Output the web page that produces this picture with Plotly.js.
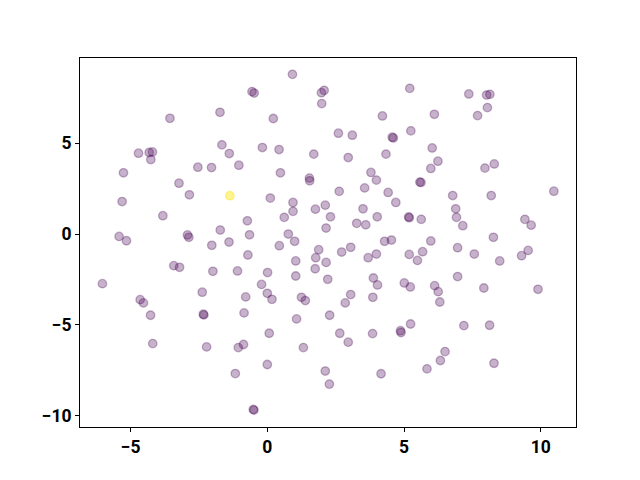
<!DOCTYPE html>
<html>
<head>
<meta charset="utf-8">
<script src="https://cdn.plot.ly/plotly-3.0.1.min.js"></script>
<style>html,body{margin:0;padding:0;background:#fff;}#chart{width:640px;height:480px;}</style>
</head>
<body>
<div id="chart"></div>
<script>
const xValues = [0.92,-0.56,-0.48,1.98,2.08,1.99,0.22,5.21,4.21,5.25,4.57,4.61,2.60,3.11,-0.18,0.43,1.70,2.96,4.34,0.48,1.54,1.55,3.79,3.99,
-3.56,-1.73,-1.66,-1.39,-1.04,-4.71,-4.32,-4.20,-4.26,-5.26,-2.54,-2.04,-3.23,
7.37,8.02,8.14,8.05,7.69,6.11,6.03,6.24,5.98,7.96,8.30,5.58,5.62,
-2.85,-5.31,-1.37,-3.82,-0.73,-5.42,-5.15,-2.92,-2.87,-1.72,-1.40,-2.03,-0.65,-0.71,-3.42,-3.21,-1.99,-1.09,-6.03,-2.38,-0.79,-4.65,-4.53,
-4.27,-2.34,-2.32,-0.85,-4.19,-2.22,-1.06,-0.87,-1.17,-0.51,-0.49,
0.11,0.94,0.94,0.62,2.63,3.56,4.42,4.70,1.76,2.12,2.31,2.15,3.50,4.02,3.27,3.60,5.17,5.19,0.77,1.00,0.44,1.88,1.77,2.15,1.04,2.72,3.05,3.69,3.99,4.29,4.54,5.19,
0.01,1.04,1.75,2.21,-0.21,0.00,0.17,1.25,1.39,2.85,3.05,3.88,4.03,3.86,5.01,5.23,
6.78,8.19,10.48,6.89,6.92,7.15,5.63,9.42,9.65,8.27,5.98,5.68,5.49,6.96,7.57,8.50,9.30,9.54,6.96,7.92,9.90,6.12,6.25,6.31,
5.24,7.19,8.13,6.50,6.33,5.84,8.29,
1.07,2.28,0.07,1.32,2.65,2.96,3.85,4.87,4.89,0.00,2.12,2.27,4.16];
const yValues = [8.79,7.84,7.76,7.78,7.91,7.18,6.36,8.02,6.50,5.68,5.33,5.29,5.55,5.44,4.76,4.65,4.40,4.21,4.40,3.37,3.08,2.93,3.39,2.97,
6.37,6.70,4.91,4.43,3.79,4.45,4.49,4.52,4.10,3.37,3.68,3.66,2.80,
7.71,7.65,7.69,6.96,6.52,6.59,4.74,4.01,3.61,3.63,3.86,2.86,2.84,
2.16,1.79,2.11,1.01,0.73,-0.13,-0.37,-0.05,-0.18,0.22,-0.44,-0.62,-0.04,-1.15,-1.74,-1.83,-2.05,-2.03,-2.73,-3.20,-3.46,-3.61,-3.79,
-4.47,-4.41,-4.45,-4.34,-6.03,-6.21,-6.25,-6.08,-7.68,-9.65,-9.69,
1.98,1.74,1.25,0.92,2.35,2.54,2.29,1.74,1.37,1.59,0.95,0.33,1.39,0.95,0.59,0.51,0.94,0.90,0.00,-0.40,-0.64,-0.86,-1.30,-1.56,-1.48,-0.99,-0.73,-1.30,-1.10,-0.40,-0.33,-1.12,
-2.12,-2.31,-1.91,-2.49,-2.77,-3.26,-3.59,-3.48,-3.66,-3.79,-3.33,-2.42,-2.80,-3.48,-2.69,-2.91,
2.12,2.12,2.36,1.39,0.92,0.46,0.81,0.81,0.49,-0.18,-0.38,-0.97,-1.45,-0.75,-1.10,-1.48,-1.19,-0.90,-2.34,-2.97,-3.04,-2.84,-3.17,-3.74,
-4.95,-5.04,-5.02,-6.47,-6.96,-7.42,-7.11,
-4.67,-4.47,-5.46,-6.25,-5.46,-5.95,-5.48,-5.32,-5.42,-7.18,-7.54,-8.26,-7.69];
// class label per point: 1 for the single highlighted point, 0 otherwise
const classLabels = xValues.map((x, i) => (i === 52 ? 1 : 0));
const classColors = ['rgba(68,1,84,0.3)', 'rgba(253,231,37,0.5)'];
const xTicks = [-5, 0, 5, 10];
const yTicks = [5, 0, -5, -10];

const colors = classLabels.map(c => classColors[c]);
const trace = {
  x: xValues, y: yValues, type: 'scatter', mode: 'markers',
  marker: {size: 8.5, color: colors, line: {color: colors, width: 1.3}},
  hoverinfo: 'skip'
};
const tickFont = {family: 'Roboto, "DejaVu Sans", sans-serif', size: 17.5, color: '#000', weight: 'bold'};
const layout = {
  width: 640, height: 480,
  margin: {l: 80, r: 64, t: 58, b: 53, pad: 0},
  paper_bgcolor: '#fff', plot_bgcolor: '#fff',
  showlegend: false,
  xaxis: {range: [-6.85, 11.29], tickvals: xTicks, ticktext: xTicks.map(v => v < 0 ? '\u2212' + Math.abs(v) : String(v)),
    showgrid: false, zeroline: false, showline: true, mirror: true, linecolor: '#000', linewidth: 1,
    ticks: 'outside', ticklen: 4, tickwidth: 1, tickcolor: '#000', tickfont: tickFont},
  yaxis: {range: [-10.62, 9.69], tickvals: yTicks, ticktext: yTicks.map(v => v < 0 ? '\u2212' + Math.abs(v) : String(v)),
    showgrid: false, zeroline: false, showline: true, mirror: true, linecolor: '#000', linewidth: 1,
    ticks: 'outside', ticklen: 4, tickwidth: 1, tickcolor: '#000', tickfont: tickFont}
};
Plotly.newPlot('chart', [trace], layout, {displayModeBar: false, staticPlot: true});
</script>
</body>
</html>
